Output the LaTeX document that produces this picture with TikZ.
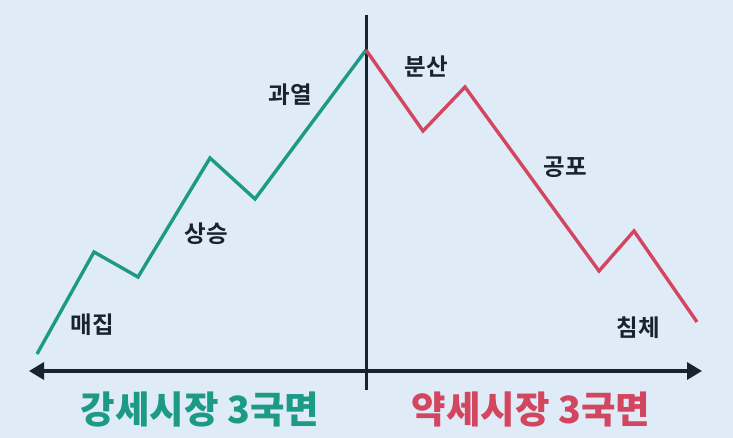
\documentclass[tikz,border=0pt]{standalone}
\usepackage{fontspec}
\setmainfont{Noto Sans CJK KR}[BoldFont={Noto Sans CJK KR Bold}]
\newfontfamily\krblack{Noto Sans CJK KR Black}
\usetikzlibrary{arrows.meta}
\definecolor{bgc}{HTML}{E0EBF8}
\definecolor{bull}{HTML}{1D9A86}
\definecolor{bear}{HTML}{D2465F}
\definecolor{ink}{HTML}{19232E}
\tikzset{
  bullline/.style={draw=bull,line width=3.4pt,line join=miter},
  bearline/.style={draw=bear,line width=3.4pt,line join=miter},
  phase/.style={font=\bfseries\fontsize{23.5}{26}\selectfont,text=ink,inner sep=0pt},
  market/.style={font=\krblack\fontsize{37.5}{41}\selectfont,inner sep=0pt},
  axisline/.style={draw=ink,line width=3.4pt,{Triangle[length=15pt,width=17pt]}-{Triangle[length=15pt,width=17pt]}},
}
\begin{document}
\begin{tikzpicture}[x=1pt,y=-1pt]
\fill[bgc] (0,0) rectangle (733,438);
\useasboundingbox (0,0) rectangle (733,438);
% green path
\coordinate (g0) at (37,354);
\coordinate (g1) at (94,252);
\coordinate (g2) at (138,277);
\coordinate (g3) at (210,158);
\coordinate (g4) at (255,199);
\coordinate (top) at (366,50);
% red path
\coordinate (r1) at (423,131);
\coordinate (r2) at (465,87);
\coordinate (r3) at (599,271);
\coordinate (r4) at (634,231);
\coordinate (r5) at (697,322);
% axes
\coordinate (vt) at (366,15);
\coordinate (vb) at (366,390);
\coordinate (al) at (29,371);
\coordinate (ar) at (702,371);
\draw[draw=ink,line width=3pt] (vt) -- (vb);
\draw[axisline] (al) -- (ar);
\draw[bullline] (g0) -- (g1) -- (g2) -- (g3) -- (g4) -- (top);
\draw[bearline] (top) -- (r1) -- (r2) -- (r3) -- (r4) -- (r5);
% labels
\node[phase] (l1) at (92,325) {매집};
\node[phase] (l2) at (206,234) {상승};
\node[phase] (l3) at (290,95) {과열};
\node[phase] (l4) at (426,67) {분산};
\node[phase] (l5) at (565,167) {공포};
\node[phase] (l6) at (638,328) {침체};
\node[market,text=bull] (m1) at (200,409) {강세시장 3국면};
\node[market,text=bear] (m2) at (531,409) {약세시장 3국면};
\end{tikzpicture}
\end{document}
